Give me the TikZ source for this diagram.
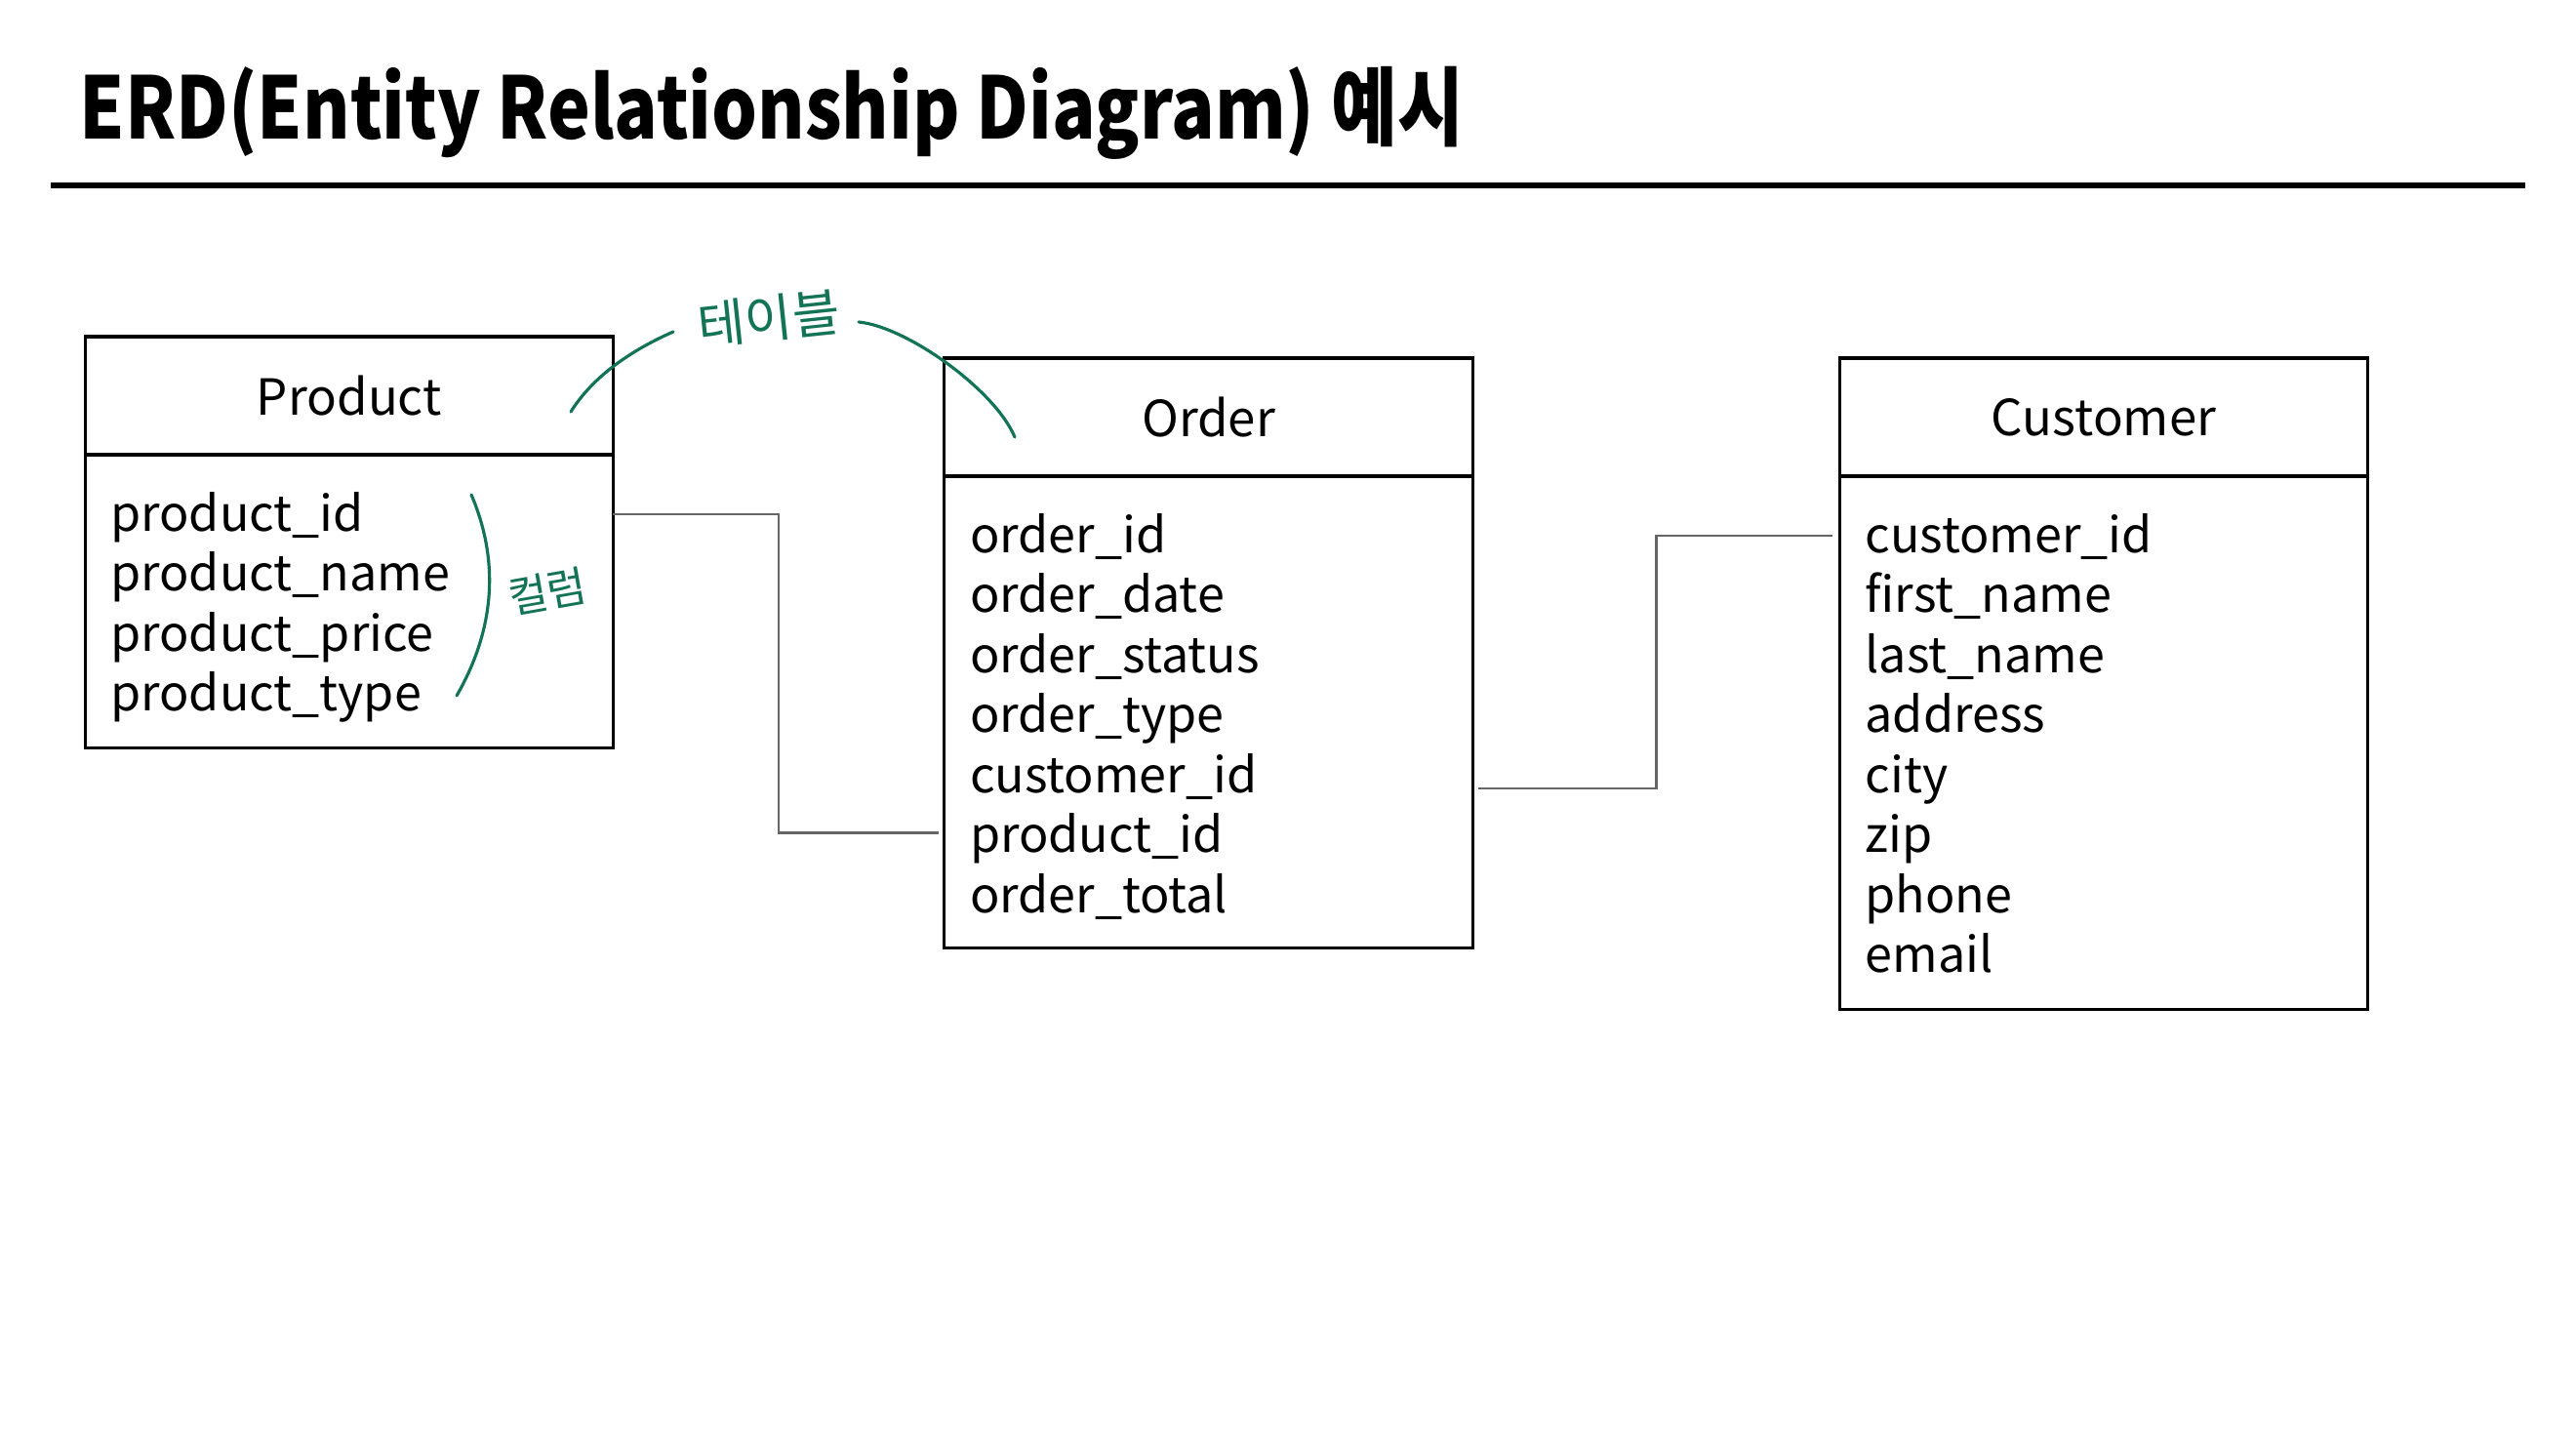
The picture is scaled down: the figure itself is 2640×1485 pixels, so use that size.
\documentclass[tikz,border=0pt]{standalone}
\usepackage{fontspec}
\setmainfont{Noto Sans CJK KR}
\usetikzlibrary{positioning, calc}

\definecolor{memogreen}{RGB}{18,115,85}
\newcommand{\headfont}{\fontsize{14.5}{17.4}\selectfont}
\newcommand{\bodyfont}{\fontsize{14.3}{17.2}\selectfont}

\tikzset{
  tblhead/.style={draw, line width=0.9pt, outer sep=0pt, minimum width=5.41cm, minimum height=1.21cm, inner sep=0pt, font=\headfont},
  tblbody/.style={draw, line width=0.9pt, outer sep=0pt, minimum width=5.41cm, inner sep=0pt},
  field/.style={anchor=base west, inner sep=0pt, font=\bodyfont},
  rel/.style={draw=black!60, line width=0.75pt},
  memo/.style={draw=memogreen, line width=0.9pt, line cap=round},
  memotext/.style={text=memogreen, inner sep=0pt}
}

\begin{document}
\begin{tikzpicture}[x=0.01cm, y=-0.01cm]
\useasboundingbox (0,0) rectangle (2640,1485);

% title
\node[anchor=base west, inner sep=0pt, font=\fontsize{25}{30}\selectfont\bfseries] (title) at (81,143) {\scalebox{0.84}[1]{ERD(Entity Relationship Diagram) 예시}};
\draw[line width=1.5pt] (52,190) -- (2588,190);

% tables
\node[tblhead] (prodhead) at (357.75,405.5) {Product};
\node[tblbody, minimum height=3.00cm, below=0pt of prodhead] (prodbody) {};
\node[tblhead] (orderhead) at (1238.5,427.5) {Order};
\node[tblbody, minimum height=4.83cm, below=0pt of orderhead] (orderbody) {};
\node[tblhead] (custhead) at (2156,427.5) {Customer};
\node[tblbody, minimum height=5.46cm, below=0pt of custhead] (custbody) {};

% columns
\foreach \f [count=\i] in {product\_id, product\_name, product\_price, product\_type}
  \node[field] (prod-\i) at ($(prodbody.north west)+(25.5,{78+(\i-1)*61.5})$) {\f};
\foreach \f [count=\i] in {order\_id, order\_date, order\_status, order\_type, customer\_id, product\_id, order\_total}
  \node[field] (order-\i) at ($(orderbody.north west)+(25.5,{78+(\i-1)*61.5})$) {\f};
\foreach \f [count=\i] in {customer\_id, first\_name, last\_name, address, city, zip, phone, email}
  \node[field] (cust-\i) at ($(custbody.north west)+(25.5,{78+(\i-1)*61.5})$) {\f};

% relations
\draw[rel] ($(prodbody.east |- prod-1.base)+(0,-17)$) -| ($(prodbody.east)!0.5!(orderbody.west)$) |- ($(orderbody.west |- order-6.base)+(-6,-20)$);
\draw[rel] ($(orderbody.east |- order-5.base)+(6,-4)$) -| ($(orderbody.east)!0.5!(custbody.west)$) |- ($(custbody.west |- cust-1.base)+(-7,-17)$);

% memo
\draw[memo] (585,422) .. controls (605,390) and (640,362) .. (690,340);
\node[memotext, rotate=6, font=\fontsize{15}{18}\selectfont] (tablememo) at (788,326) {테이블};
\draw[memo] (880,330) .. controls (930,335) and (1020,400) .. (1040,448);
\draw[memo] (483,507) .. controls (510,570) and (510,640) .. (468,713);
\node[memotext, rotate=10, font=\fontsize{12.5}{15}\selectfont] (colmemo) at (561,606) {컬럼};
\end{tikzpicture}
\end{document}
